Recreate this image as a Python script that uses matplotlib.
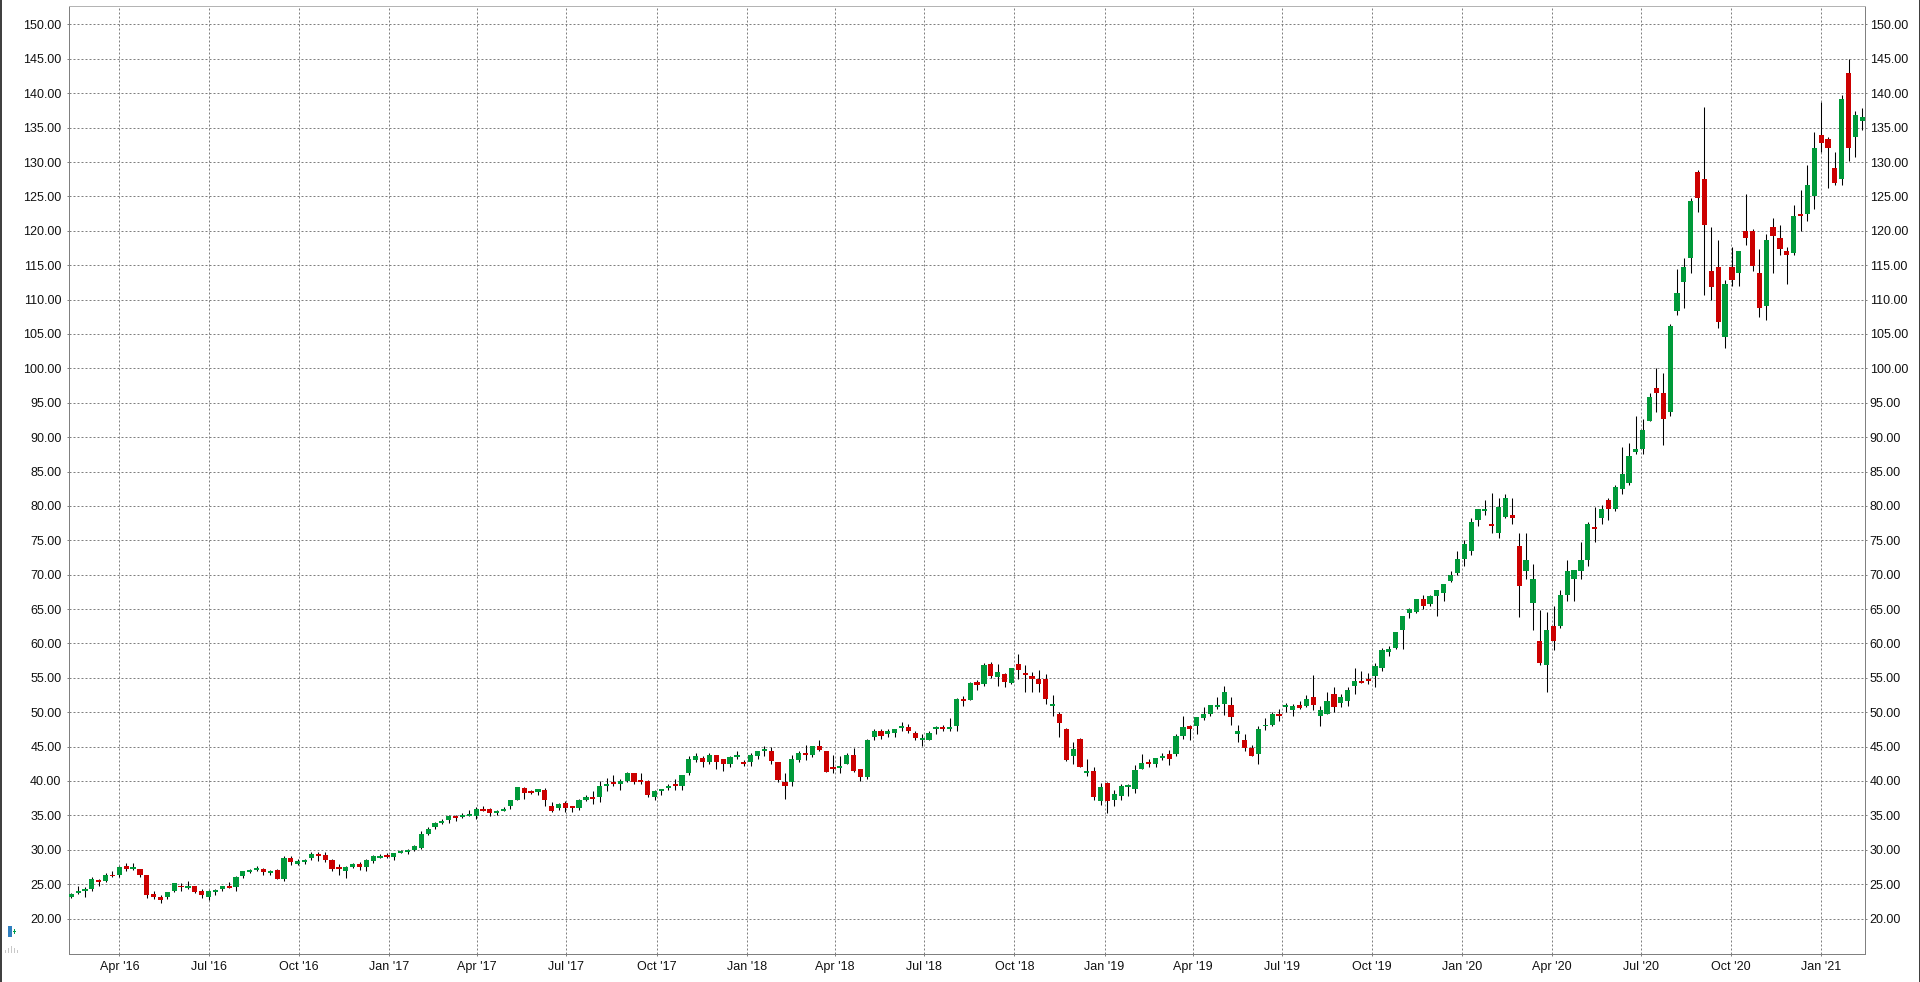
import matplotlib
matplotlib.use("Agg")
import matplotlib.pyplot as plt
import matplotlib.dates as mdates
from matplotlib.patches import Rectangle
from matplotlib.transforms import ScaledTranslation
import pandas as pd

plt.rcParams['font.family'] = ['Liberation Sans', 'DejaVu Sans']

opens = [
 23.2,23.7,24.0,24.3,25.6,25.4,26.4,26.4,27.6,27.2,
 27.2,26.3,23.5,23.2,23.1,24.0,24.8,24.4,24.7,24.0,
 23.2,23.8,24.3,24.7,24.6,26.2,26.7,27.0,27.2,26.6,
 27.0,25.7,28.8,27.9,28.2,28.8,29.4,29.2,28.5,27.5,
 26.9,27.5,27.9,27.5,28.3,28.8,29.2,28.9,29.5,29.6,
 29.9,30.2,32.3,33.3,33.9,34.3,34.9,34.7,34.9,34.9,
 35.9,35.9,35.3,35.6,36.3,37.2,39.0,38.5,38.4,38.7,
 36.4,36.1,36.8,36.3,36.1,37.3,37.7,37.6,39.2,39.9,
 39.5,40.0,41.1,40.2,40.0,37.6,38.6,39.0,39.6,39.3,
 41.1,43.1,43.4,42.7,43.8,43.2,42.4,43.5,42.8,42.7,
 43.7,44.4,44.4,42.7,39.9,39.8,43.1,44.1,43.8,45.1,
 44.4,42.1,41.9,42.5,43.8,41.8,40.6,46.4,47.3,46.9,
 47.0,47.7,47.9,47.0,45.9,46.0,47.5,47.9,47.6,48.0,
 51.9,51.8,54.4,54.1,57.0,55.1,55.5,54.2,57.0,55.7,
 55.2,54.9,54.8,50.9,49.7,47.5,43.6,46.1,41.1,41.4,
 37.1,39.7,37.2,37.8,39.1,38.9,41.8,42.7,42.4,43.4,
 43.9,43.9,46.5,48.0,48.0,49.1,49.7,50.7,51.2,51.0,
 46.9,45.9,44.8,43.9,48.0,48.2,49.7,50.7,50.3,51.0,
 50.9,52.2,49.4,49.8,52.6,51.4,51.6,53.8,54.5,54.8,
 55.2,56.5,58.7,59.4,61.9,64.4,64.5,66.4,65.7,66.9,
 67.4,69.1,70.2,72.3,73.4,77.9,79.2,77.4,76.0,78.4,
 78.7,74.2,70.5,65.9,60.4,56.9,62.6,62.6,67.0,69.4,
 70.5,72.2,77.0,78.3,80.8,79.5,82.5,83.3,87.8,88.3,
 92.4,97.2,96.4,93.7,108.3,112.5,116.0,128.6,127.6,114.2,
 114.7,104.5,114.8,113.9,120.0,119.9,113.9,109.1,120.5,118.9,
 117.1,116.8,122.5,122.5,125.0,134.0,133.4,129.1,127.6,143.0,133.7,135.9,
]
closes = [
 23.5,24.0,24.3,25.7,25.3,26.4,26.2,27.5,27.2,27.5,
 26.4,23.4,23.2,22.7,23.8,25.1,24.6,24.7,23.8,23.4,
 24.0,24.1,24.7,24.4,26.0,26.9,27.0,27.3,26.7,26.9,
 25.7,28.8,28.2,28.3,28.5,29.4,29.1,28.5,27.2,27.2,
 27.5,27.9,27.5,28.5,29.1,29.1,28.9,29.5,29.8,29.9,
 30.5,32.3,33.0,33.9,34.2,34.9,34.6,35.0,35.2,35.9,
 35.6,35.3,35.6,35.9,37.2,39.1,38.2,38.2,38.8,37.3,
 35.7,36.7,36.1,36.0,37.3,37.7,37.4,39.2,39.5,39.5,
 40.0,41.1,39.8,39.9,38.0,38.6,38.9,39.3,39.2,40.8,
 43.2,43.7,42.7,43.8,42.8,42.4,43.5,43.8,42.4,43.8,
 44.4,44.7,42.9,40.2,39.2,43.2,44.0,43.8,45.1,44.5,
 41.3,41.8,42.2,43.8,41.5,40.6,46.0,47.2,46.6,47.2,
 47.6,48.0,47.3,46.3,46.3,47.0,47.9,47.6,47.9,51.9,
 51.6,54.3,54.0,56.9,55.3,55.9,54.4,56.4,56.1,55.4,
 54.8,54.1,51.9,51.2,48.4,43.0,44.6,42.1,41.4,37.6,
 39.1,37.1,38.1,39.2,39.4,41.6,42.6,42.4,43.3,43.7,
 43.2,46.5,47.8,47.5,49.3,49.7,51.0,51.0,52.9,49.3,
 47.2,44.8,43.7,47.5,48.2,49.7,49.4,51.0,50.9,50.6,
 51.9,51.0,50.3,51.6,50.7,52.2,53.3,54.6,54.2,54.5,
 56.7,59.0,59.2,61.6,64.0,65.0,66.4,65.4,66.9,67.7,
 68.7,69.9,72.3,74.4,77.6,79.6,79.5,77.1,79.9,81.2,
 78.2,68.3,72.2,69.4,57.2,61.9,60.3,67.0,70.6,70.7,
 72.2,77.4,76.7,79.6,79.5,82.8,84.7,87.3,88.3,91.0,
 95.9,96.4,92.6,106.2,111.0,114.8,124.3,124.7,120.9,111.9,
 106.8,112.2,112.9,117.0,119.0,114.9,108.8,118.6,119.2,117.3,
 116.5,122.2,122.2,126.6,132.0,132.7,132.0,127.0,139.1,132.0,136.8,136.5,
]
highs = [
 23.7,24.7,24.6,26.0,25.7,26.6,26.9,27.6,28.0,28.0,
 27.2,26.4,24.0,23.4,23.8,25.1,25.1,25.4,24.8,24.3,
 24.1,24.3,24.8,25.3,26.2,26.9,27.2,27.6,27.3,27.0,
 27.2,29.1,29.1,28.6,28.6,29.6,29.6,29.6,28.6,27.9,
 27.6,28.0,28.2,28.6,29.2,29.4,29.5,29.5,29.9,30.1,
 30.7,32.7,33.3,34.0,34.4,35.0,35.0,35.3,35.8,36.2,
 36.3,36.0,35.8,36.2,37.2,39.1,39.1,38.7,38.8,39.0,
 37.0,36.8,37.1,36.4,37.4,38.0,38.6,40.0,40.5,40.8,
 40.3,41.3,41.2,41.1,40.2,38.7,38.9,39.6,40.3,40.9,
 43.7,44.1,43.7,44.0,43.8,43.2,43.7,44.4,43.1,44.0,
 44.4,45.1,45.0,42.7,41.1,43.8,44.3,45.3,45.1,46.0,
 44.4,43.8,43.7,44.0,44.8,41.8,46.1,47.6,47.5,47.5,
 47.6,48.6,48.3,47.3,46.9,47.2,48.0,48.2,49.1,52.1,
 52.4,54.4,54.7,57.2,57.3,57.0,55.7,56.5,58.4,56.8,
 55.8,56.1,55.5,52.5,50.0,47.7,45.6,46.2,43.2,42.1,
 39.7,39.8,38.7,39.5,39.5,42.3,43.9,43.2,43.3,44.0,
 44.5,46.8,49.4,48.2,49.3,50.7,51.0,52.2,53.8,52.2,
 48.1,46.9,45.2,48.0,49.1,50.1,50.4,51.3,51.2,51.6,
 52.5,55.4,50.9,53.0,53.6,52.6,53.6,56.5,56.0,55.7,
 57.1,59.4,59.6,61.6,64.0,65.1,66.4,67.0,67.0,67.7,
 68.7,70.6,73.5,75.1,78.2,79.6,80.8,81.9,81.2,81.8,
 81.1,76.0,76.0,71.6,64.8,64.6,65.5,67.8,72.1,70.7,
 74.7,77.6,79.9,80.2,81.1,83.0,88.6,89.1,93.0,92.6,
 96.4,100.0,99.3,106.4,114.4,116.0,124.8,128.8,138.0,120.5,
 118.7,112.8,117.7,117.0,125.3,120.3,117.3,119.6,121.9,120.9,
 117.6,123.7,125.9,129.5,134.3,138.8,133.6,131.4,139.8,145.0,137.4,137.8,
]
lows = [
 23.0,23.5,23.2,24.0,24.8,25.3,26.0,26.0,26.9,27.0,
 26.0,23.0,22.8,22.2,22.8,23.8,24.0,24.3,23.7,23.0,
 22.7,23.4,24.0,24.4,24.0,25.9,26.6,26.9,26.4,26.3,
 25.7,25.4,27.8,27.8,27.9,28.5,28.3,28.2,26.9,26.3,
 25.9,27.3,27.0,26.9,28.0,28.8,28.8,28.5,29.5,29.4,
 29.8,30.1,32.1,33.0,33.7,33.9,34.2,34.6,34.9,34.4,
 35.6,34.9,35.0,35.6,35.9,37.2,37.4,38.1,37.9,36.4,
 35.5,35.8,35.5,35.5,35.8,37.1,36.7,37.0,38.6,39.2,
 38.7,39.9,39.6,39.5,37.6,37.3,38.0,38.7,38.7,38.7,
 40.9,42.8,42.1,42.4,41.8,41.5,42.1,43.2,42.2,42.2,
 43.2,43.7,42.5,39.9,37.4,39.3,42.7,43.1,43.5,44.4,
 41.3,41.2,41.1,42.4,41.3,40.0,40.3,45.9,46.1,46.4,
 46.4,47.3,47.0,45.9,45.1,46.0,46.9,47.2,47.3,47.2,
 50.9,51.8,53.2,53.8,55.0,53.8,53.6,54.1,54.9,52.9,
 53.0,53.0,51.2,49.4,46.4,42.9,42.4,42.0,40.7,37.2,
 36.5,35.3,36.3,37.2,37.8,38.2,41.7,42.1,42.1,43.0,
 42.3,43.7,46.1,45.9,46.9,48.8,49.4,50.4,49.6,48.1,
 45.6,44.3,43.6,42.4,47.4,48.0,48.7,50.0,49.4,50.4,
 50.7,50.3,48.0,49.7,50.1,50.7,50.9,52.6,54.2,54.1,
 53.6,56.0,58.1,59.2,59.2,63.7,64.4,65.0,65.4,64.0,
 66.1,69.0,69.9,71.2,72.9,77.1,78.7,76.0,75.4,78.3,
 77.4,63.9,69.3,61.9,56.8,53.0,59.0,62.2,66.2,66.1,
 69.3,71.3,74.8,77.4,78.0,79.2,81.7,83.0,87.6,87.6,
 92.3,93.7,88.9,93.0,107.7,108.8,113.8,122.8,110.7,109.9,
 105.9,102.9,112.0,112.0,118.0,114.1,107.5,107.1,113.9,116.5,
 112.3,116.5,119.9,121.4,123.2,131.4,126.2,126.7,126.7,130.1,130.8,134.7,
]
first_week = "2016-02-12"
tick_dates = ["2016-04-01","2016-07-01","2016-10-01","2017-01-01","2017-04-01","2017-07-01",
              "2017-10-01","2018-01-01","2018-04-01","2018-07-01","2018-10-01","2019-01-01",
              "2019-04-01","2019-07-01","2019-10-01","2020-01-01","2020-04-01","2020-07-01",
              "2020-10-01","2021-01-01"]
tick_labels = ["Apr '16","Jul '16","Oct '16","Jan '17","Apr '17","Jul '17","Oct '17","Jan '18",
               "Apr '18","Jul '18","Oct '18","Jan '19","Apr '19","Jul '19","Oct '19","Jan '20",
               "Apr '20","Jul '20","Oct '20","Jan '21"]
price_ticks = list(range(20, 155, 5))

W, H = 1920, 982
UP, DOWN = "#009a3a", "#cc0000"
PX = 72 / 100

fig = plt.figure(figsize=(W / 100, H / 100), dpi=100, facecolor="white")
left, right, top, bottom = 68.5, 1865.3, 6.0, 954.0
ax = fig.add_axes([left / W, 1 - bottom / H, (right - left) / W, (bottom - top) / H])

dates = pd.date_range(first_week, periods=len(opens), freq="7D")
x = mdates.date2num(dates)
colors = [UP if c >= o else DOWN for o, c in zip(opens, closes)]

wicks = ax.vlines(x, lows, highs, color="black", linewidth=PX * 1.05, zorder=2)
wicks.set_snap(True)
ax.bar(x, [abs(c - o) for o, c in zip(opens, closes)], bottom=[min(o, c) for o, c in zip(opens, closes)],
       width=5.3, color=colors, linewidth=0, zorder=3)

ax.set_xlim(x[0] - 2.86, x[-1] + 3.06)
ax.set_ylim(14.84, 152.69)

ax.set_xticks(mdates.date2num(pd.to_datetime(tick_dates)))
ax.set_xticklabels(tick_labels)
ax.set_yticks(price_ticks)
ax.set_yticklabels([f"{v:.2f}" for v in price_ticks])
ax.tick_params(axis="both", labelsize=9, length=2 * PX, width=PX, color="#808080", labelcolor="#111111")
ax.tick_params(axis="y", labelright=True, right=True, pad=3.6)
ax.tick_params(axis="x", pad=3.3)
ax.grid(True, color="#808080", linewidth=PX, linestyle=(0, (2, 2)), zorder=1)
ax.set_axisbelow(True)

# right-hand labels sit closer to the frame than the left-hand ones
shift = ScaledTranslation(-2.5 / 100, 0, fig.dpi_scale_trans)
for tick in ax.yaxis.get_major_ticks():
    tick.label2.set_transform(tick.label2.get_transform() + shift)

for name, spine in ax.spines.items():
    spine.set_linewidth(PX)
    spine.set_color("#808080")
ax.spines["top"].set_color("#b4b4b4")


def box(x0, y0, x1, y1, color):
    fig.add_artist(Rectangle((x0 / W, 1 - y1 / H), (x1 - x0) / W, (y1 - y0) / H,
                             transform=fig.transFigure, facecolor=color, edgecolor="none"))


# window edges
box(0, 0, 2, H, "#404040")
box(1919, 0, 1920, H, "#404040")
# small toolbar glyph at lower left
box(8, 926, 12, 937, "#2f7fc0")
box(13, 930.5, 16, 932, "#00a050")
box(14, 929, 15, 933.5, "#00a050")
for px, tall in zip((5, 8, 11, 14, 17), (3, 5, 7, 5, 3)):
    box(px, 953 - tall, px + 1, 953, "#c8c8c8")

fig.savefig("out.png", dpi=100, facecolor="white")
